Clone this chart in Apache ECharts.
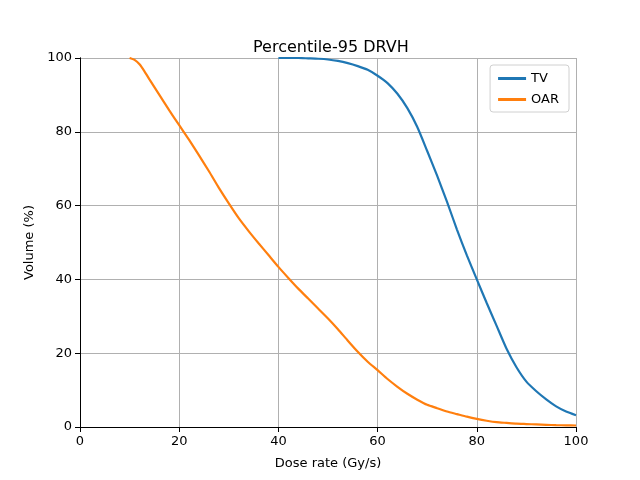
<!DOCTYPE html>
<html>
<head>
    <meta charset="utf-8">
    <script type="text/javascript" src="https://cdn.jsdelivr.net/npm/echarts@6/dist/echarts.min.js"></script>
    <title>DRVH</title>
    <style>
        html, body { margin: 0; padding: 0; background: #fff; }
    </style>
</head>
<body>
<div id="main" style="width: 640px;height:480px;"></div>
<script type="text/javascript">

    // dose rate (Gy/s) and volume (%)
    var tvDose = [40, 42, 44, 46, 48, 50, 52, 54, 56, 58, 60, 62, 64, 66, 68, 70, 72, 74, 76, 78, 80,
                  82, 84, 86, 88, 90, 92, 94, 96, 98, 100];
    var tvVolume = [100, 100, 100, 99.9, 99.8, 99.6, 99.2, 98.6, 97.8, 96.8, 95.2, 93.2, 90.3, 86.4, 81.3, 74.8,
                    68.1, 61, 53.5, 46.5, 40, 33.6, 27.4, 21.2, 16.2, 12.3, 9.7, 7.5, 5.6, 4.2, 3.2];

    var oarDose = [10, 11, 12, 13, 14, 16, 18, 20, 22, 24, 26, 28, 30, 32, 34, 36, 38, 40, 42, 44, 46, 48,
                   50, 52, 54, 56, 58, 60, 62, 64, 66, 68, 70, 72, 74, 76, 78, 80, 82, 84, 86, 88, 90,
                   92, 94, 96, 98, 100];
    var oarVolume = [100, 99.5, 98.3, 96.4, 94.2, 90, 85.8, 81.8, 77.8, 73.6, 69.3, 64.8, 60.6, 56.6, 53.1, 49.8,
                     46.6, 43.4, 40.4, 37.5, 34.8, 32.1, 29.4, 26.5, 23.4, 20.4, 17.7, 15.4, 13, 10.9, 9, 7.4,
                     6, 5.1, 4.2, 3.5, 2.8, 2.2, 1.7, 1.3, 1.1, 0.9, 0.8, 0.7, 0.6, 0.5, 0.45, 0.4];

    var xTicks = [0, 20, 40, 60, 80, 100];
    var yTicks = [0, 20, 40, 60, 80, 100];

    function pairs(xs, ys) {
        var out = [];
        for (var i = 0; i < xs.length; i++) {
            out.push([xs[i], ys[i]]);
        }
        return out;
    }

    var font = 'DejaVu Sans';
    var myChart = echarts.init(document.getElementById('main'));

    var boxAxis = {
        type: 'value',
        min: 0,
        max: 100,
        interval: 20,
        axisLine: { show: true, lineStyle: { color: '#000', width: 1 } },
        axisTick: { show: false },
        axisLabel: { show: false },
        splitLine: { show: false }
    };

    option = {
        animation: false,
        backgroundColor: '#fff',
        title: {
            text: 'Percentile-95 DRVH',
            left: 248,
            top: 35,
            textStyle: { fontFamily: font, fontSize: 16, fontWeight: 'normal', color: '#000' }
        },
        legend: {
            orient: 'vertical',
            right: 71,
            top: 65,
            padding: [7, 10, 6, 8],
            itemGap: 8,
            itemWidth: 28,
            itemHeight: 3,
            icon: 'rect',
            borderColor: '#d0d0d0',
            borderWidth: 1,
            borderRadius: 3,
            textStyle: { fontFamily: font, fontSize: 13, color: '#000' },
            data: ['TV', 'OAR']
        },
        grid: {
            left: 80,
            top: 58,
            width: 496,
            height: 369
        },
        xAxis: [{
            type: 'value',
            min: xTicks[0],
            max: xTicks[xTicks.length - 1],
            interval: 20,
            name: 'Dose rate (Gy/s)',
            nameLocation: 'middle',
            nameGap: 30,
            nameTextStyle: { fontFamily: font, fontSize: 13, color: '#000' },
            axisLine: { show: true, onZero: false, lineStyle: { color: '#000', width: 1 } },
            axisTick: { show: true, inside: false, length: 5, lineStyle: { color: '#000' } },
            axisLabel: { fontFamily: font, fontSize: 13, color: '#000', margin: 8 },
            splitLine: { show: true, lineStyle: { color: '#b0b0b0', width: 1 } }
        }, Object.assign({ position: 'top' }, boxAxis)],
        yAxis: [{
            type: 'value',
            min: yTicks[0],
            max: yTicks[yTicks.length - 1],
            interval: 20,
            name: 'Volume (%)',
            nameLocation: 'middle',
            nameGap: 42,
            nameTextStyle: { fontFamily: font, fontSize: 13, color: '#000' },
            axisLine: { show: true, onZero: false, lineStyle: { color: '#000', width: 1 } },
            axisTick: { show: true, inside: false, length: 5, lineStyle: { color: '#000' } },
            axisLabel: { fontFamily: font, fontSize: 13, color: '#000', margin: 8 },
            splitLine: { show: true, lineStyle: { color: '#b0b0b0', width: 1 } }
        }, Object.assign({ position: 'right' }, boxAxis)],
        series: [{
            name: 'TV',
            type: 'line',
            showSymbol: false,
            smooth: 0.2,
            color: '#1f77b4',
            lineStyle: { width: 2.2, color: '#1f77b4' },
            data: pairs(tvDose, tvVolume)
        }, {
            name: 'OAR',
            type: 'line',
            showSymbol: false,
            smooth: 0.2,
            color: '#ff7f0e',
            lineStyle: { width: 2.2, color: '#ff7f0e' },
            data: pairs(oarDose, oarVolume)
        }]
    };
    myChart.setOption(option);

</script>
</body>
</html>
